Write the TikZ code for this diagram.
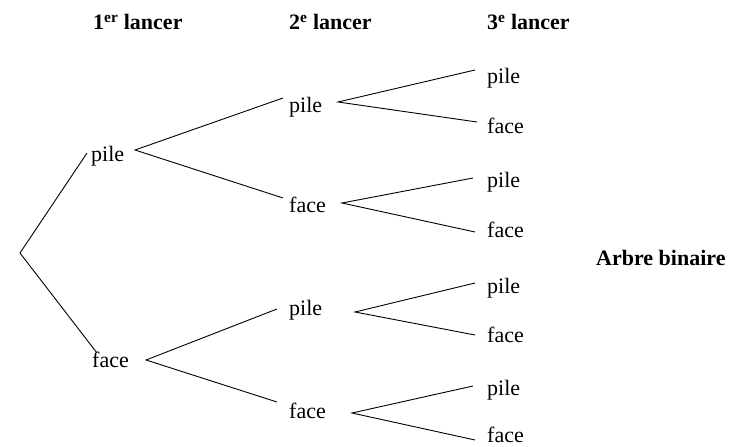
\documentclass[tikz,border=0pt]{standalone}
\usepackage{fontspec}
\setmainfont{Liberation Serif}
\begin{document}
\begin{tikzpicture}[x=1pt,y=-1pt,
  lbl/.style={anchor=base west,inner sep=0pt,font=\fontsize{22}{26}\selectfont},
  hdr/.style={anchor=base west,inner sep=0pt,font=\fontsize{22}{26}\selectfont\bfseries},
  br/.style={line width=0.9pt}]
\useasboundingbox (0,0) rectangle (729,447);
% headers
\node[hdr] (h1) at (93,30) {1\textsuperscript{er} lancer};
\node[hdr] (h2) at (289,30) {2\textsuperscript{e} lancer};
\node[hdr] (h3) at (487,30) {3\textsuperscript{e} lancer};
\node[hdr] (title) at (596,265) {Arbre binaire};
% level 1
\node[lbl] (p) at (91,161) {pile};
\node[lbl] (f) at (92,367) {face};
% level 2
\node[lbl] (pp) at (289,112) {pile};
\node[lbl] (pf) at (289,212) {face};
\node[lbl] (fp) at (289,315) {pile};
\node[lbl] (ff) at (289,418) {face};
% level 3
\node[lbl] (ppp) at (487,83) {pile};
\node[lbl] (ppf) at (487,133) {face};
\node[lbl] (pfp) at (487,187) {pile};
\node[lbl] (pff) at (487,237) {face};
\node[lbl] (fpp) at (487,293) {pile};
\node[lbl] (fpf) at (487,342) {face};
\node[lbl] (ffp) at (487,395) {pile};
\node[lbl] (fff) at (487,442) {face};
% branch points
\coordinate (r) at (20,253);
\coordinate (pin) at (87,153);
\coordinate (fin) at (97,353);
\coordinate (pout) at (135,150);
\coordinate (fout) at (146,360);
\coordinate (ppin) at (283,98);
\coordinate (pfin) at (283,198);
\coordinate (fpin) at (277,309);
\coordinate (ffin) at (277,402);
\coordinate (ppout) at (338,102);
\coordinate (pfout) at (342,203);
\coordinate (fpout) at (355,312);
\coordinate (ffout) at (352,413);
\coordinate (pppin) at (475,70);
\coordinate (ppfin) at (477,122);
\coordinate (pfpin) at (473,178);
\coordinate (pffin) at (475,232);
\coordinate (fppin) at (475,283);
\coordinate (fpfin) at (475,335);
\coordinate (ffpin) at (473,386);
\coordinate (fffin) at (475,440);
% connectors
\draw[br] (pin) -- (r) -- (fin);
\draw[br] (ppin) -- (pout) -- (pfin);
\draw[br] (fpin) -- (fout) -- (ffin);
\draw[br] (pppin) -- (ppout) -- (ppfin);
\draw[br] (pfpin) -- (pfout) -- (pffin);
\draw[br] (fppin) -- (fpout) -- (fpfin);
\draw[br] (ffpin) -- (ffout) -- (fffin);
\end{tikzpicture}
\end{document}
